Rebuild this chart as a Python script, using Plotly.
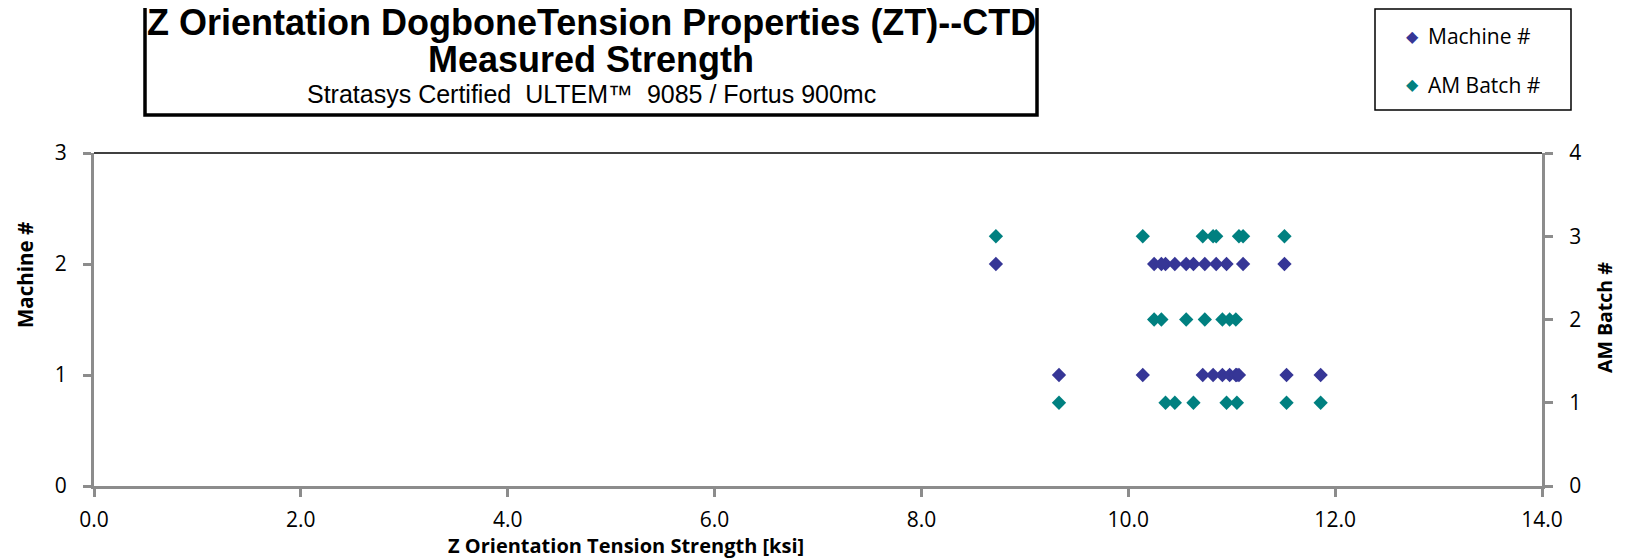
import plotly.graph_objects as go

# Specimen data: tension strength [ksi], machine #, AM batch #
strength = [9.33, 10.36, 10.45, 10.63, 10.95, 11.05, 11.53, 11.86,
            10.25, 10.32, 10.56, 10.74, 10.91, 10.98, 11.04,
            8.72, 10.14, 10.72, 10.82, 10.85, 11.07, 11.11, 11.51]
machine = [1, 2, 2, 2, 2, 1, 1, 1,
           2, 2, 2, 2, 1, 1, 1,
           2, 1, 1, 1, 2, 1, 2, 2]
batch = [1, 1, 1, 1, 1, 1, 1, 1,
         2, 2, 2, 2, 2, 2, 2,
         3, 3, 3, 3, 3, 3, 3, 3]

x_ticks = [0, 2, 4, 6, 8, 10, 12, 14]
x_tick_labels = ["0.0", "2.0", "4.0", "6.0", "8.0", "10.0", "12.0", "14.0"]

AXIS_GREY = "#8c8c8c"
FONT = "'Open Sans', Lato, sans-serif"
TITLE_FONT = "'Liberation Sans Narrow', 'Arial Narrow', 'Liberation Sans', Arial"

# The page body has an 8px margin, so the figure is drawn 8px smaller and
# all placements are given in window coordinates.
OFF = 8
WIN_W, WIN_H = 1630, 558
W, H = WIN_W - OFF, WIN_H - OFF
PL, PR, PT, PB = 94, 1542, 153, 486   # plot area in window coordinates
L, R, T, B = PL - OFF, WIN_W - PR, PT - OFF, WIN_H - PB
PW, PH = PR - PL, PB - PT


def px(xpix):
    return (xpix - PL) / PW


def py(ypix):
    return (PB - ypix) / PH


fig = go.Figure()
fig.add_trace(go.Scatter(
    x=strength, y=machine, mode="markers", name="Machine #",
    marker=dict(symbol="diamond", size=11, color="#363696"),
    xaxis="x", yaxis="y"))
fig.add_trace(go.Scatter(
    x=strength, y=batch, mode="markers", name="AM Batch #",
    marker=dict(symbol="diamond", size=11, color="#008080"),
    xaxis="x", yaxis="y2"))

axis_common = dict(showgrid=False, zeroline=False, showline=True,
                   linecolor=AXIS_GREY, linewidth=3, ticks="outside",
                   ticklen=8, tickwidth=3, tickcolor=AXIS_GREY,
                   tickfont=dict(size=21), automargin=False)

fig.update_layout(
    width=W, height=H,
    margin=dict(l=L, r=R, t=T, b=B, pad=0),
    paper_bgcolor="white", plot_bgcolor="white",
    font=dict(family=FONT, size=20, color="black"),
    showlegend=False,
    xaxis=dict(range=[0, 14], tickvals=x_ticks, ticktext=x_tick_labels,
               ticklabelstandoff=5, **axis_common),
    yaxis=dict(range=[0, 3], tickvals=[0, 1, 2, 3], ticklabelstandoff=12,
               **axis_common),
    yaxis2=dict(range=[0, 4], tickvals=[0, 1, 2, 3, 4], overlaying="y",
                side="right", ticklabelstandoff=12, **axis_common),
)

# Axis titles
fig.add_annotation(xref="paper", yref="paper", x=px(626), y=py(545),
                   text="<b>Z Orientation Tension Strength [ksi]</b>", showarrow=False,
                   font=dict(size=20), xanchor="center", yanchor="middle")
fig.add_annotation(xref="paper", yref="paper", x=px(25), y=py(275),
                   text="<b>Machine #</b>", showarrow=False, textangle=-90,
                   font=dict(size=20.5), xanchor="center", yanchor="middle")
fig.add_annotation(xref="paper", yref="paper", x=px(1604), y=py(318),
                   text="<b>AM Batch #</b>", showarrow=False, textangle=-90,
                   font=dict(size=19.5), xanchor="center", yanchor="middle")

# plot area top border
fig.add_shape(type="line", xref="paper", yref="paper", x0=0, x1=1, y0=1, y1=1,
              line=dict(color="black", width=1.5))

# Title box
fig.add_shape(type="rect", xref="paper", yref="paper",
              x0=px(145), x1=px(1037), y0=py(115), y1=py(-4),
              line=dict(color="black", width=3.5), fillcolor="white", layer="above")
title_x = px(591)
fig.add_annotation(xref="paper", yref="paper", x=title_x, y=py(22),
                   text="<b>Z Orientation DogboneTension Properties (ZT)--CTD</b>",
                   showarrow=False, font=dict(family=TITLE_FONT, size=36),
                   xanchor="center", yanchor="middle")
fig.add_annotation(xref="paper", yref="paper", x=title_x, y=py(60),
                   text="<b>Measured Strength</b>",
                   showarrow=False, font=dict(family=TITLE_FONT, size=36),
                   xanchor="center", yanchor="middle")
fig.add_annotation(xref="paper", yref="paper", x=title_x, y=py(94),
                   text="Stratasys Certified  ULTEM™  9085 / Fortus 900mc",
                   showarrow=False, font=dict(family=TITLE_FONT, size=25),
                   xanchor="center", yanchor="middle")

# Legend box
fig.add_shape(type="rect", xref="paper", yref="paper",
              x0=px(1375), x1=px(1571), y0=py(110), y1=py(9),
              line=dict(color="black", width=1.5), fillcolor="white", layer="above")
for label, color, ypix in [("Machine #", "#363696", 36), ("AM Batch #", "#008080", 85)]:
    fig.add_annotation(xref="paper", yref="paper", x=px(1426),
                       y=py(ypix), text=label, showarrow=False,
                       font=dict(family=FONT, size=21), xanchor="left", yanchor="middle")
    fig.add_annotation(xref="paper", yref="paper", x=px(1412),
                       y=py(ypix), text="◆", showarrow=False,
                       font=dict(family="DejaVu Sans", size=16, color=color),
                       xanchor="center", yanchor="middle")

fig.write_html("out.html")
